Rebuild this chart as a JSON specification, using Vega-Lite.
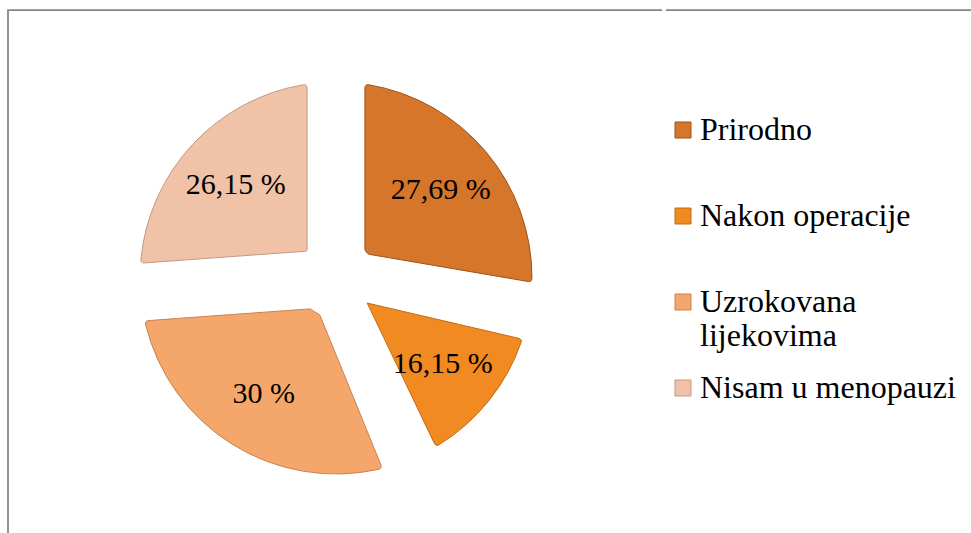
{
  "$schema": "https://vega.github.io/schema/vega-lite/v6.json",
  "padding": {"left": 7, "top": 9, "right": 0, "bottom": 0},
  "background": "white",
  "spacing": 0,
  "config": {
    "legend": {
      "title": null,
      "symbolType": "square",
      "symbolSize": 256,
      "symbolStrokeWidth": 1,
      "labelFont": "Liberation Serif",
      "labelFontSize": 32,
      "labelColor": "black",
      "labelOffset": 1,
      "labelLimit": 400,
      "rowPadding": 20
    }
  },
  "hconcat": [
    {
      "width": 656,
      "height": 536,
      "view": {"stroke": "#858585", "strokeWidth": 1.75, "strokeDash": [654, 1194, 536]},
      "data": {
        "values": [
          {"kategorija": "Prirodno", "postotak": 27.69, "redoslijed": 1},
          {"kategorija": "Nakon operacije", "postotak": 16.15, "redoslijed": 2},
          {"kategorija": "Uzrokovana lijekovima", "postotak": 30, "redoslijed": 3},
          {"kategorija": "Nisam u menopauzi", "postotak": 26.15, "redoslijed": 4}
        ]
      },
      "transform": [
        {"calculate": "replace(format(datum.postotak, '.2~f'), '.', ',') + ' %'", "as": "oznaka"}
      ],
      "layer": [
        {
          "mark": {"type": "arc", "outerRadius": 196, "innerRadius": 40, "padAngle": 0.29, "cornerRadius": 3, "strokeWidth": 1},
          "encoding": {
            "theta": {"field": "postotak", "type": "quantitative", "stack": true},
            "order": {"field": "redoslijed", "type": "quantitative"},
            "color": {
              "field": "kategorija",
              "type": "nominal",
              "sort": ["Prirodno", "Nakon operacije", "Uzrokovana lijekovima", "Nisam u menopauzi"],
              "scale": {
                "domain": ["Prirodno", "Nakon operacije", "Uzrokovana lijekovima", "Nisam u menopauzi"],
                "range": ["#D6762A", "#F18A20", "#F5A76B", "#F0C2A7"]
              },
              "legend": {
                "orient": "none",
                "legendX": 659,
                "legendY": 104,
                "labelExpr": "datum.label == 'Uzrokovana lijekovima' ? ['Uzrokovana', 'lijekovima'] : [datum.label, '']"
              }
            },
            "stroke": {
              "field": "kategorija",
              "type": "nominal",
              "sort": ["Prirodno", "Nakon operacije", "Uzrokovana lijekovima", "Nisam u menopauzi"],
              "scale": {
                "domain": ["Prirodno", "Nakon operacije", "Uzrokovana lijekovima", "Nisam u menopauzi"],
                "range": ["#9C5218", "#C46C16", "#C98250", "#C09A85"]
              },
              "legend": {
                "orient": "none",
                "legendX": 659,
                "legendY": 104,
                "labelExpr": "datum.label == 'Uzrokovana lijekovima' ? ['Uzrokovana', 'lijekovima'] : [datum.label, '']"
              }
            }
          }
        },
        {
          "mark": {"type": "text", "radius": 137, "font": "Liberation Serif", "fontSize": 30, "fill": "black"},
          "encoding": {
            "theta": {"field": "postotak", "type": "quantitative", "stack": true},
            "order": {"field": "redoslijed", "type": "quantitative"},
            "detail": {"field": "kategorija", "type": "nominal"},
            "text": {"field": "oznaka", "type": "nominal"}
          }
        }
      ]
    },
    {
      "width": 315,
      "height": 536,
      "view": {"stroke": "#858585", "strokeWidth": 1.75, "strokeDash": [1000, 2000]},
      "data": {"values": []},
      "mark": "point",
      "encoding": {}
    }
  ]
}
